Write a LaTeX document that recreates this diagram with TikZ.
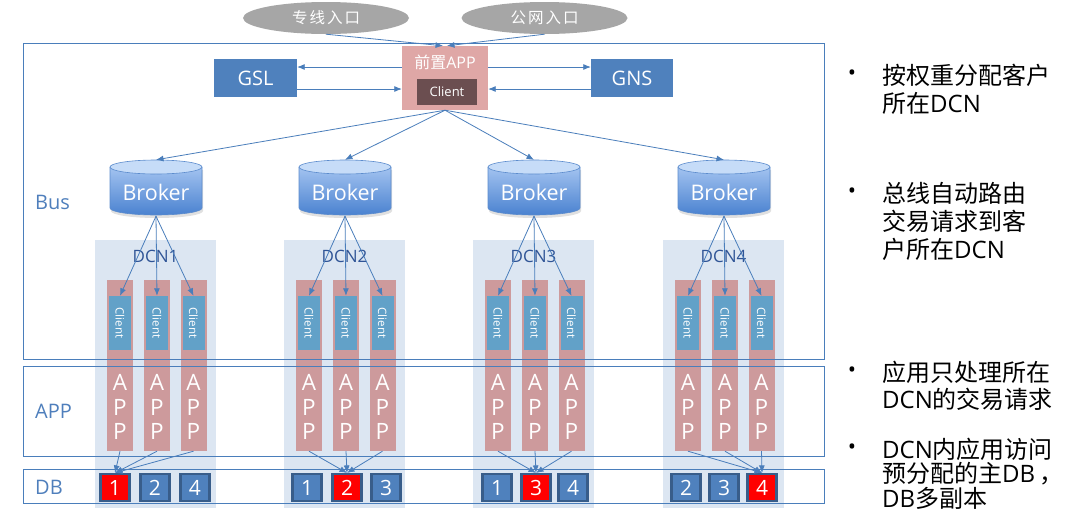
\documentclass[tikz,border=0pt]{standalone}
\usepackage{fontspec}
\setmainfont{Open Sans}
\newfontfamily\cjk{Noto Sans CJK SC}
\usetikzlibrary{shapes.geometric,arrows.meta}
\definecolor{frameblue}{HTML}{4A7EBB}
\definecolor{labelblue}{HTML}{4F7FBC}
\definecolor{arrowblue}{HTML}{4A7EBB}
\definecolor{gslblue}{HTML}{4F81BD}
\definecolor{entrygray}{HTML}{A6A6A6}
\definecolor{fapink}{HTML}{DFA7A6}
\definecolor{fabrown}{HTML}{6B4E50}
\definecolor{panelbg}{HTML}{DCE6F2}
\definecolor{apppink}{HTML}{CD9A9C}
\definecolor{clientblue}{HTML}{62A1C8}
\definecolor{dcnblue}{HTML}{2F5496}
\definecolor{dbborder}{HTML}{385D8A}
\definecolor{brokerlight}{HTML}{A3C3F0}
\definecolor{brokerdark}{HTML}{4A82D0}
\definecolor{brokertopc}{HTML}{C6DCF8}
\definecolor{brokeredge}{HTML}{5C8CCD}
\tikzset{
  frame/.style={draw=frameblue, line width=1pt, fill=none, inner sep=0pt, anchor=north west},
  layerlabel/.style={text=labelblue, font=\fontsize{20}{24}\selectfont, anchor=west, inner sep=0pt},
  entry/.style={ellipse, fill=entrygray, draw=none, minimum width=166pt, minimum height=32pt, text=white, font=\cjk\fontsize{15.5}{18}\selectfont, inner sep=0pt},
  bluebox/.style={fill=gslblue, text=white, minimum height=38pt, font=\fontsize{20}{24}\selectfont, inner sep=0pt},
  conn/.style={draw=arrowblue, line width=0.8pt, -{Latex[length=7.5pt,width=6pt]}},
  panel/.style={fill=panelbg, minimum width=121pt, minimum height=268pt, anchor=north west, inner sep=0pt},
  appcol/.style={fill=apppink, minimum width=26pt, minimum height=171pt, inner sep=0pt},
  clientbox/.style={fill=clientblue, minimum width=22pt, minimum height=54pt, inner sep=0pt},
  clienttext/.style={text=white, rotate=-90, font=\fontsize{11.5}{13}\selectfont, inner sep=0pt},
  apptext/.style={text=white, align=center, font=\fontsize{22.5}{24.5}\selectfont, inner sep=0pt},
  dcnlabel/.style={text=dcnblue, font=\fontsize{17}{20}\selectfont, inner sep=0pt},
  dbbox/.style={fill=gslblue, draw=dbborder, line width=2.2pt, minimum width=29pt, minimum height=27pt, text=white, font=\fontsize{21}{24}\selectfont, inner sep=0pt},
  dbred/.style={dbbox, fill=red},
  brokerbox/.style={minimum width=92pt, minimum height=56pt, inner sep=0pt},
  brokerlabel/.style={text=white, font=\fontsize{21.5}{24}\selectfont, inner sep=0pt},
  bulletmark/.style={font=\fontsize{22}{26}\selectfont, inner sep=0pt},
  rtext/.style={anchor=west, font=\fontsize{24}{28}\selectfont, inner sep=0pt}
}
\begin{document}
\begin{tikzpicture}[x=1pt,y=-1pt]
\fill[white] (0,0) rectangle (1078,515);
\useasboundingbox (0,0) rectangle (1078,515);

% DCN panels, columns, clients
\foreach \L [count=\i] in {95,284,473,663} {
  \node[panel] (P\i) at (\L,240) {};
  \foreach \o [count=\j] in {25,62,98.5} {
    \node[appcol] (A\i\j) at (\L+\o,365.5) {};
    \node[clientbox] (C\i\j) at (\L+\o,323) {};
    \node[clienttext] (CT\i\j) at (\L+\o,323) {Client};
    \node[apptext] (T\i\j) at (\L+\o,407) {A\\P\\P};
  }
  \node[dcnlabel] (D\i) at (\L+60.5,256) {DCN\i};
}

% DB boxes
\foreach \i/\x/\t in {1/155/2,1/195/4,2/307/1,2/386/3,3/497/1,3/573/4,4/686/2,4/724/3}
  \node[dbbox] (DB\i\t) at (\x,487.5) {\t};
\foreach \i/\x/\t in {1/115/1,2/347/2,3/536/3,4/762/4}
  \node[dbred] (R\i) at (\x,487.5) {\t};

% layer frames
\node[frame, minimum width=801pt, minimum height=316pt] (bus) at (23,43) {};
\node[frame, minimum width=801pt, minimum height=90pt] (app) at (23,366) {};
\node[frame, minimum width=801pt, minimum height=34pt] (db) at (23,469) {};
\node[layerlabel] (busL) at (35,202) {Bus};
\node[layerlabel] (appL) at (35,411) {APP};
\node[layerlabel] (dbL) at (35,487) {DB};

% entries
\node[entry] (E1) at (326,18) {专\hspace{2pt}线\hspace{2pt}入\hspace{2pt}口};
\node[entry] (E2) at (544.5,18) {公\hspace{2pt}网\hspace{2pt}入\hspace{2pt}口};

% front app
\node[fill=fapink, minimum width=86pt, minimum height=64pt, inner sep=0pt] (FA) at (445,78) {};
\node[text=white, font=\fontsize{16}{19}\selectfont, inner sep=0pt] (FAT) at (445,62) {{\cjk 前置}APP};
\node[fill=fabrown, minimum width=60pt, minimum height=26pt, text=white, font=\fontsize{13}{16}\selectfont, inner sep=0pt] (FAC) at (447,92) {Client};

\node[bluebox, minimum width=83pt] (GSL) at (255.5,78) {GSL};
\node[bluebox, minimum width=82pt] (GNS) at (632,78) {GNS};

% brokers
\foreach \c [count=\i] in {156,345,534,724} {
  \fill[black!12] (\c-45,170) -- (\c-45,211) arc[start angle=180, end angle=360, x radius=46pt, y radius=7pt] -- (\c+47,170) -- cycle;
  \shade[top color=brokerlight, bottom color=brokerdark]
    (\c-46,167) -- (\c-46,208) arc[start angle=180, end angle=360, x radius=46pt, y radius=7pt] -- (\c+46,167) -- cycle;
  \draw[brokeredge, line width=0.6pt]
    (\c-46,167) -- (\c-46,208) arc[start angle=180, end angle=360, x radius=46pt, y radius=7pt] -- (\c+46,167);
  \filldraw[fill=brokertopc, draw=brokeredge, line width=0.6pt] (\c,167) ellipse[x radius=46pt, y radius=7pt];
  \node[brokerbox] (B\i) at (\c,188) {};
  \node[brokerlabel] (BT\i) at (\c,192) {Broker};
}

% connectors
\draw[conn] (E1.south) -- ([xshift=-2pt]FA.north);
\draw[conn] (E2.south) -- ([xshift=2pt]FA.north);
\draw[conn] ([yshift=11pt]FA.west) -- ([yshift=11pt]GSL.east);
\draw[conn] ([yshift=-11pt]GSL.east) -- ([yshift=-11pt]FA.west);
\draw[conn] ([yshift=11pt]FA.east) -- ([yshift=11pt]GNS.west);
\draw[conn] ([yshift=-11pt]GNS.west) -- ([yshift=-11pt]FA.east);
\foreach \i in {1,2,3,4} {
  \draw[conn] (FA.south) -- (B\i.north);
  \foreach \j in {1,2,3} {
    \draw[conn] (B\i.south) -- (C\i\j.north);
    \draw[conn] (A\i\j.south) -- (R\i.north);
  }
}

% right text
\node[bulletmark] (b1) at (852,75) {•};
\node[rtext] (t11) at (882,75) {\cjk 按权重分配客户};
\node[rtext] (t12) at (882,103) {{\cjk 所在}DCN};
\node[bulletmark] (b2) at (852,193) {•};
\node[rtext] (t21) at (882,193) {\cjk 总线自动路由};
\node[rtext] (t22) at (882,221) {\cjk 交易请求到客};
\node[rtext] (t23) at (882,249) {{\cjk 户所在}DCN};
\node[bulletmark] (b3) at (852,372) {•};
\node[rtext] (t31) at (882,372) {\cjk 应用只处理所在};
\node[rtext] (t32) at (882,399) {DCN{\cjk 的交易请求}};
\node[bulletmark] (b4) at (852,449) {•};
\node[rtext] (t41) at (882,449) {DCN{\cjk 内应用访问}};
\node[rtext] (t42) at (882,474) {{\cjk 预分配的主}DB\,{\cjk ，}};
\node[rtext] (t43) at (882,498) {DB{\cjk 多副本}};
\end{tikzpicture}
\end{document}
